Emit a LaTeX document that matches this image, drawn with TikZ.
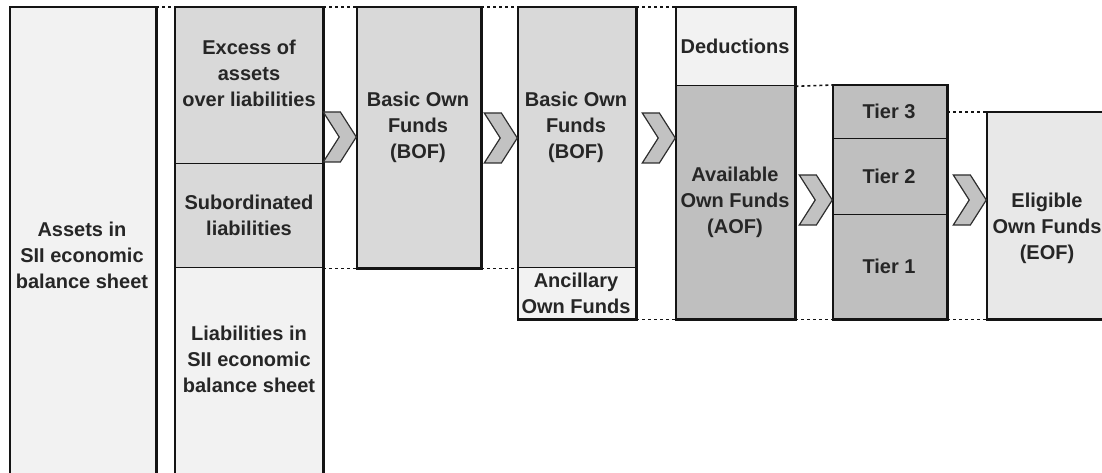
\documentclass[tikz,border=0pt]{standalone}
\usepackage{fontspec}
\setmainfont{Liberation Sans}
\usetikzlibrary{calc, shapes.symbols}
\definecolor{fill-pale}{HTML}{F2F2F2}
\definecolor{fill-mid}{HTML}{D9D9D9}
\definecolor{fill-dark}{HTML}{BFBFBF}
\definecolor{fill-eof}{HTML}{E8E8E8}
\definecolor{edge}{HTML}{141414}
\definecolor{chev-fill}{HTML}{C2C2C2}
\definecolor{chev-edge}{HTML}{2E2E2E}
\tikzset{
    my-part/.style={
      draw=edge, line width=1.3pt, rectangle, anchor=north west, inner sep=0pt
    },
    my-frame/.style={
      draw=edge, line width=2.6pt
    },
    my-text/.style={
      font=\bfseries\fontsize{20}{26}\selectfont, align=center, text=black!85, inner sep=0pt
    },
    my-dots/.style={
      draw=edge, line width=1.6pt, dash pattern=on 3pt off 3pt
    },
    my-chevron/.style={
      signal, signal to=east, signal from=west, signal pointer angle=115,
      fill=chev-fill, draw=chev-edge, line width=1.2pt,
      minimum width=33pt, minimum height=50pt, inner sep=0pt, anchor=east
    },
}

\begin{document}
\begin{tikzpicture}[x=1pt, y=-1pt]

        \clip (0,0) rectangle (1102,473);

        % ASSETS
        \node[my-part, fill=fill-pale, minimum width=145pt, minimum height=478pt] (ASSETS) at (10,7) {};
        \draw[my-frame] (ASSETS.north west) rectangle (ASSETS.south east);

        % BALANCE SHEET SPLIT
        \node[my-part, fill=fill-mid,  minimum width=147pt, minimum height=156pt] (EXCESS) at (175,7)   {};
        \node[my-part, fill=fill-mid,  minimum width=147pt, minimum height=104pt] (SUBORD) at (175,163) {};
        \node[my-part, fill=fill-pale, minimum width=147pt, minimum height=218pt] (LIAB)   at (175,267) {};
        \draw[my-frame] (EXCESS.north west) rectangle (LIAB.south east);

        % BASIC OWN FUNDS
        \node[my-part, fill=fill-mid, minimum width=123pt, minimum height=260pt] (BOF1) at (357,7) {};
        \draw[my-frame] (BOF1.north west) rectangle (BOF1.south east);

        % BASIC AND ANCILLARY OWN FUNDS
        \node[my-part, fill=fill-mid,  minimum width=117pt, minimum height=260pt] (BOF2) at (518,7)   {};
        \node[my-part, fill=fill-pale, minimum width=117pt, minimum height=51pt]  (ANC)  at (518,267) {};
        \draw[my-frame] (BOF2.north west) rectangle (ANC.south east);

        % AVAILABLE OWN FUNDS
        \node[my-part, fill=fill-pale, minimum width=118pt, minimum height=78pt]  (DED) at (676,7)  {};
        \node[my-part, fill=fill-dark, minimum width=118pt, minimum height=233pt] (AOF) at (676,85) {};
        \draw[my-frame] (DED.north west) rectangle (AOF.south east);

        % TIERS
        \node[my-part, fill=fill-dark, minimum width=113pt, minimum height=53pt]  (TIER3) at (833,85)  {};
        \node[my-part, fill=fill-dark, minimum width=113pt, minimum height=76pt]  (TIER2) at (833,138) {};
        \node[my-part, fill=fill-dark, minimum width=113pt, minimum height=104pt] (TIER1) at (833,214) {};
        \draw[my-frame] (TIER3.north west) rectangle (TIER1.south east);

        % ELIGIBLE OWN FUNDS
        \node[my-part, fill=fill-eof, minimum width=125pt, minimum height=206pt] (EOF) at (987,112) {};
        \draw[my-frame] (EOF.north west) rectangle (EOF.south east);

        % LABELS
        \node[my-text] (ASSETSTXT) at (82,255)  {Assets in\\SII economic\\balance sheet};
        \node[my-text] (EXCESSTXT) at (249,73)  {Excess of\\assets\\over liabilities};
        \node[my-text] (SUBORDTXT) at (249,215) {Subordinated\\liabilities};
        \node[my-text] (LIABTXT)   at (249,359) {Liabilities in\\SII economic\\balance sheet};
        \node[my-text] (BOF1TXT)   at (418,127) {Basic Own\\Funds\\(BOF)};
        \node[my-text] (BOF2TXT)   at (576,127) {Basic Own\\Funds\\(BOF)};
        \node[my-text] (ANCTXT)    at (576,293) {Ancillary\\Own Funds};
        \node[my-text] (DEDTXT)    at (735,46)  {Deductions};
        \node[my-text] (AOFTXT)    at (735,202) {Available\\Own Funds\\(AOF)};
        \node[my-text] (TIER3TXT)  at (889,111) {Tier 3};
        \node[my-text] (TIER2TXT)  at (889,176) {Tier 2};
        \node[my-text] (TIER1TXT)  at (889,266) {Tier 1};
        \node[my-text] (EOFTXT)    at (1047,228) {Eligible\\Own Funds\\(EOF)};

        % DOTTED GUIDES
        \draw[my-dots] (ASSETS.north east) -- (EXCESS.north west);
        \draw[my-dots] (EXCESS.north east) -- (BOF1.north west);
        \draw[my-dots] (SUBORD.south east) -- (BOF1.south west);
        \draw[my-dots] (BOF1.north east)   -- (BOF2.north west);
        \draw[my-dots] (BOF1.south east)   -- (BOF2.south west);
        \draw[my-dots] (BOF2.north east)   -- (DED.north west);
        \draw[my-dots] (ANC.south east)    -- (AOF.south west);
        \draw[my-dots] (DED.south east)    -- (TIER3.north west);
        \draw[my-dots] (AOF.south east)    -- (TIER1.south west);
        \draw[my-dots] (EOF.north west -| TIER3.east) -- (EOF.north west);
        \draw[my-dots] (TIER1.south east)  -- (EOF.south west);

        % CHEVRONS
        \node[my-chevron] (CHEV1) at (BOF1.west  |- 0,137) {};
        \node[my-chevron] (CHEV2) at (BOF2.west  |- 0,138) {};
        \node[my-chevron] (CHEV3) at (DED.west   |- 0,138) {};
        \node[my-chevron] (CHEV4) at (TIER2.west |- 0,200) {};
        \node[my-chevron] (CHEV5) at (EOF.west   |- 0,200) {};

    \end{tikzpicture}
\end{document}
